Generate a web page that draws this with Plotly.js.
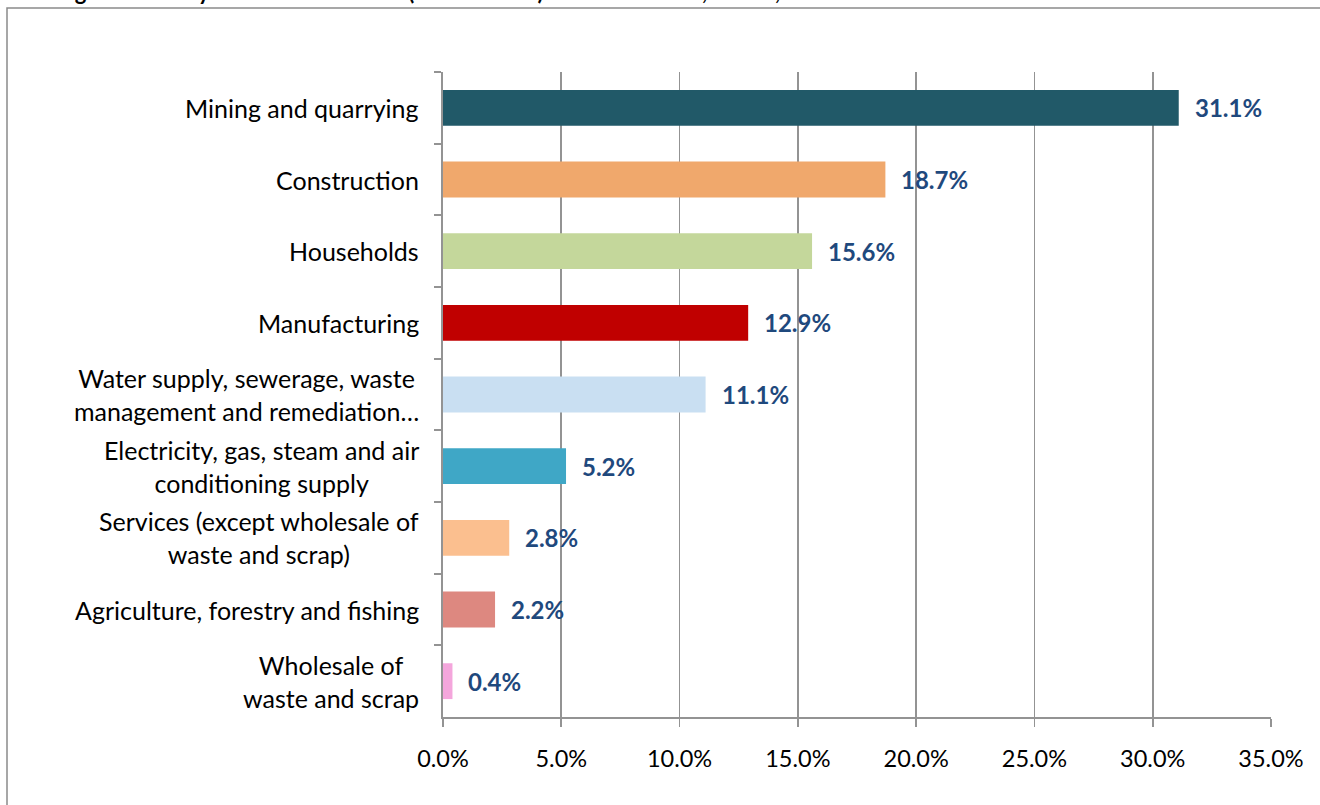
<!DOCTYPE html>
<html>
<head>
<meta charset="utf-8">
<script src="https://cdn.plot.ly/plotly-3.0.1.min.js"></script>
<style>html,body{margin:0;padding:0;background:#fff;}#chart{width:1320px;height:805px;}</style>
</head>
<body>
<div id="chart"></div>
<script>
const categories = [
  "Mining and quarrying",
  "Construction",
  "Households",
  "Manufacturing",
  "Water supply, sewerage, waste<br>management and remediation…",
  "Electricity, gas, steam and air<br>conditioning supply",
  "Services (except wholesale of<br>waste and scrap)",
  "Agriculture, forestry and fishing",
  "Wholesale of<br>waste and scrap"
];
const values = [31.1, 18.7, 15.6, 12.9, 11.1, 5.2, 2.8, 2.2, 0.4];
const barColors = ["#215968", "#F0A86C", "#C4D79B", "#C00000", "#C9DFF2", "#3FA7C6", "#FBBF8F", "#DD8880", "#F4A6DC"];
const xTickVals = [0, 5, 10, 15, 20, 25, 30, 35];
const xTickText = ["0.0%", "5.0%", "10.0%", "15.0%", "20.0%", "25.0%", "30.0%", "35.0%"];
const titleText = "Waste generation by economic activities (NACE Rev. 2) and households, EU-28, 2016";

const W = 1320, H = 805;
const m = {l: 443, r: 49, t: 72, b: 88};
const pw = W - m.l - m.r, ph = H - m.t - m.b;
const FONT = "Lato, 'Open Sans', sans-serif";

const trace = {
  type: "bar",
  orientation: "h",
  x: values,
  y: categories,
  marker: {color: barColors, line: {width: 0}},
  hoverinfo: "none"
};

const annotations = [];
categories.forEach((c, i) => {
  annotations.push({
    x: 0, y: c, xref: "paper", yref: "y",
    text: c, showarrow: false, xanchor: "right", yanchor: "middle",
    align: "center", xshift: -22,
    font: {family: FONT, size: 25, color: "#000"}
  });
  annotations.push({
    x: values[i], y: c, xref: "x", yref: "y",
    text: values[i].toFixed(1) + "%", showarrow: false, xanchor: "left", yanchor: "middle",
    xshift: 14,
    font: {family: FONT, size: 24, color: "#1F497D", weight: "bold"}
  });
});
annotations.push({
  x: (5 - m.l) / pw, y: (H - m.b - 7) / ph, xref: "paper", yref: "paper",
  text: "<b>" + titleText + "</b>", showarrow: false, xanchor: "left", yanchor: "bottom",
  font: {family: FONT, size: 22, color: "#000"}
});

const layout = {
  width: W, height: H,
  margin: m,
  paper_bgcolor: "#fff", plot_bgcolor: "#fff",
  showlegend: false,
  bargap: 0.5,
  xaxis: {
    range: [0, 35], tickvals: xTickVals, ticktext: xTickText,
    showgrid: true, gridcolor: "#939393", gridwidth: 1.8,
    zeroline: false, showline: true, linecolor: "#939393", linewidth: 1.8,
    ticks: "outside", ticklen: 8, tickcolor: "#939393", tickwidth: 1.8,
    ticklabelstandoff: 12,
    tickfont: {family: FONT, size: 23.5, color: "#000"},
    fixedrange: true
  },
  yaxis: {
    autorange: "reversed", type: "category",
    showticklabels: false,
    showgrid: false, zeroline: false,
    showline: true, linecolor: "#939393", linewidth: 1.8,
    ticks: "outside", ticklen: 7, tickcolor: "#939393", tickwidth: 1.8,
    tickson: "boundaries",
    fixedrange: true
  },
  annotations: annotations,
  shapes: [{
    type: "rect", xref: "paper", yref: "paper",
    x0: (7 - m.l) / pw, x1: 1.2, y0: -0.3, y1: (H - m.b - 8) / ph,
    line: {color: "#8a8a8a", width: 1.5}, fillcolor: "rgba(0,0,0,0)", layer: "below"
  }]
};

Plotly.newPlot("chart", [trace], layout, {staticPlot: true, displayModeBar: false});
</script>
</body>
</html>
